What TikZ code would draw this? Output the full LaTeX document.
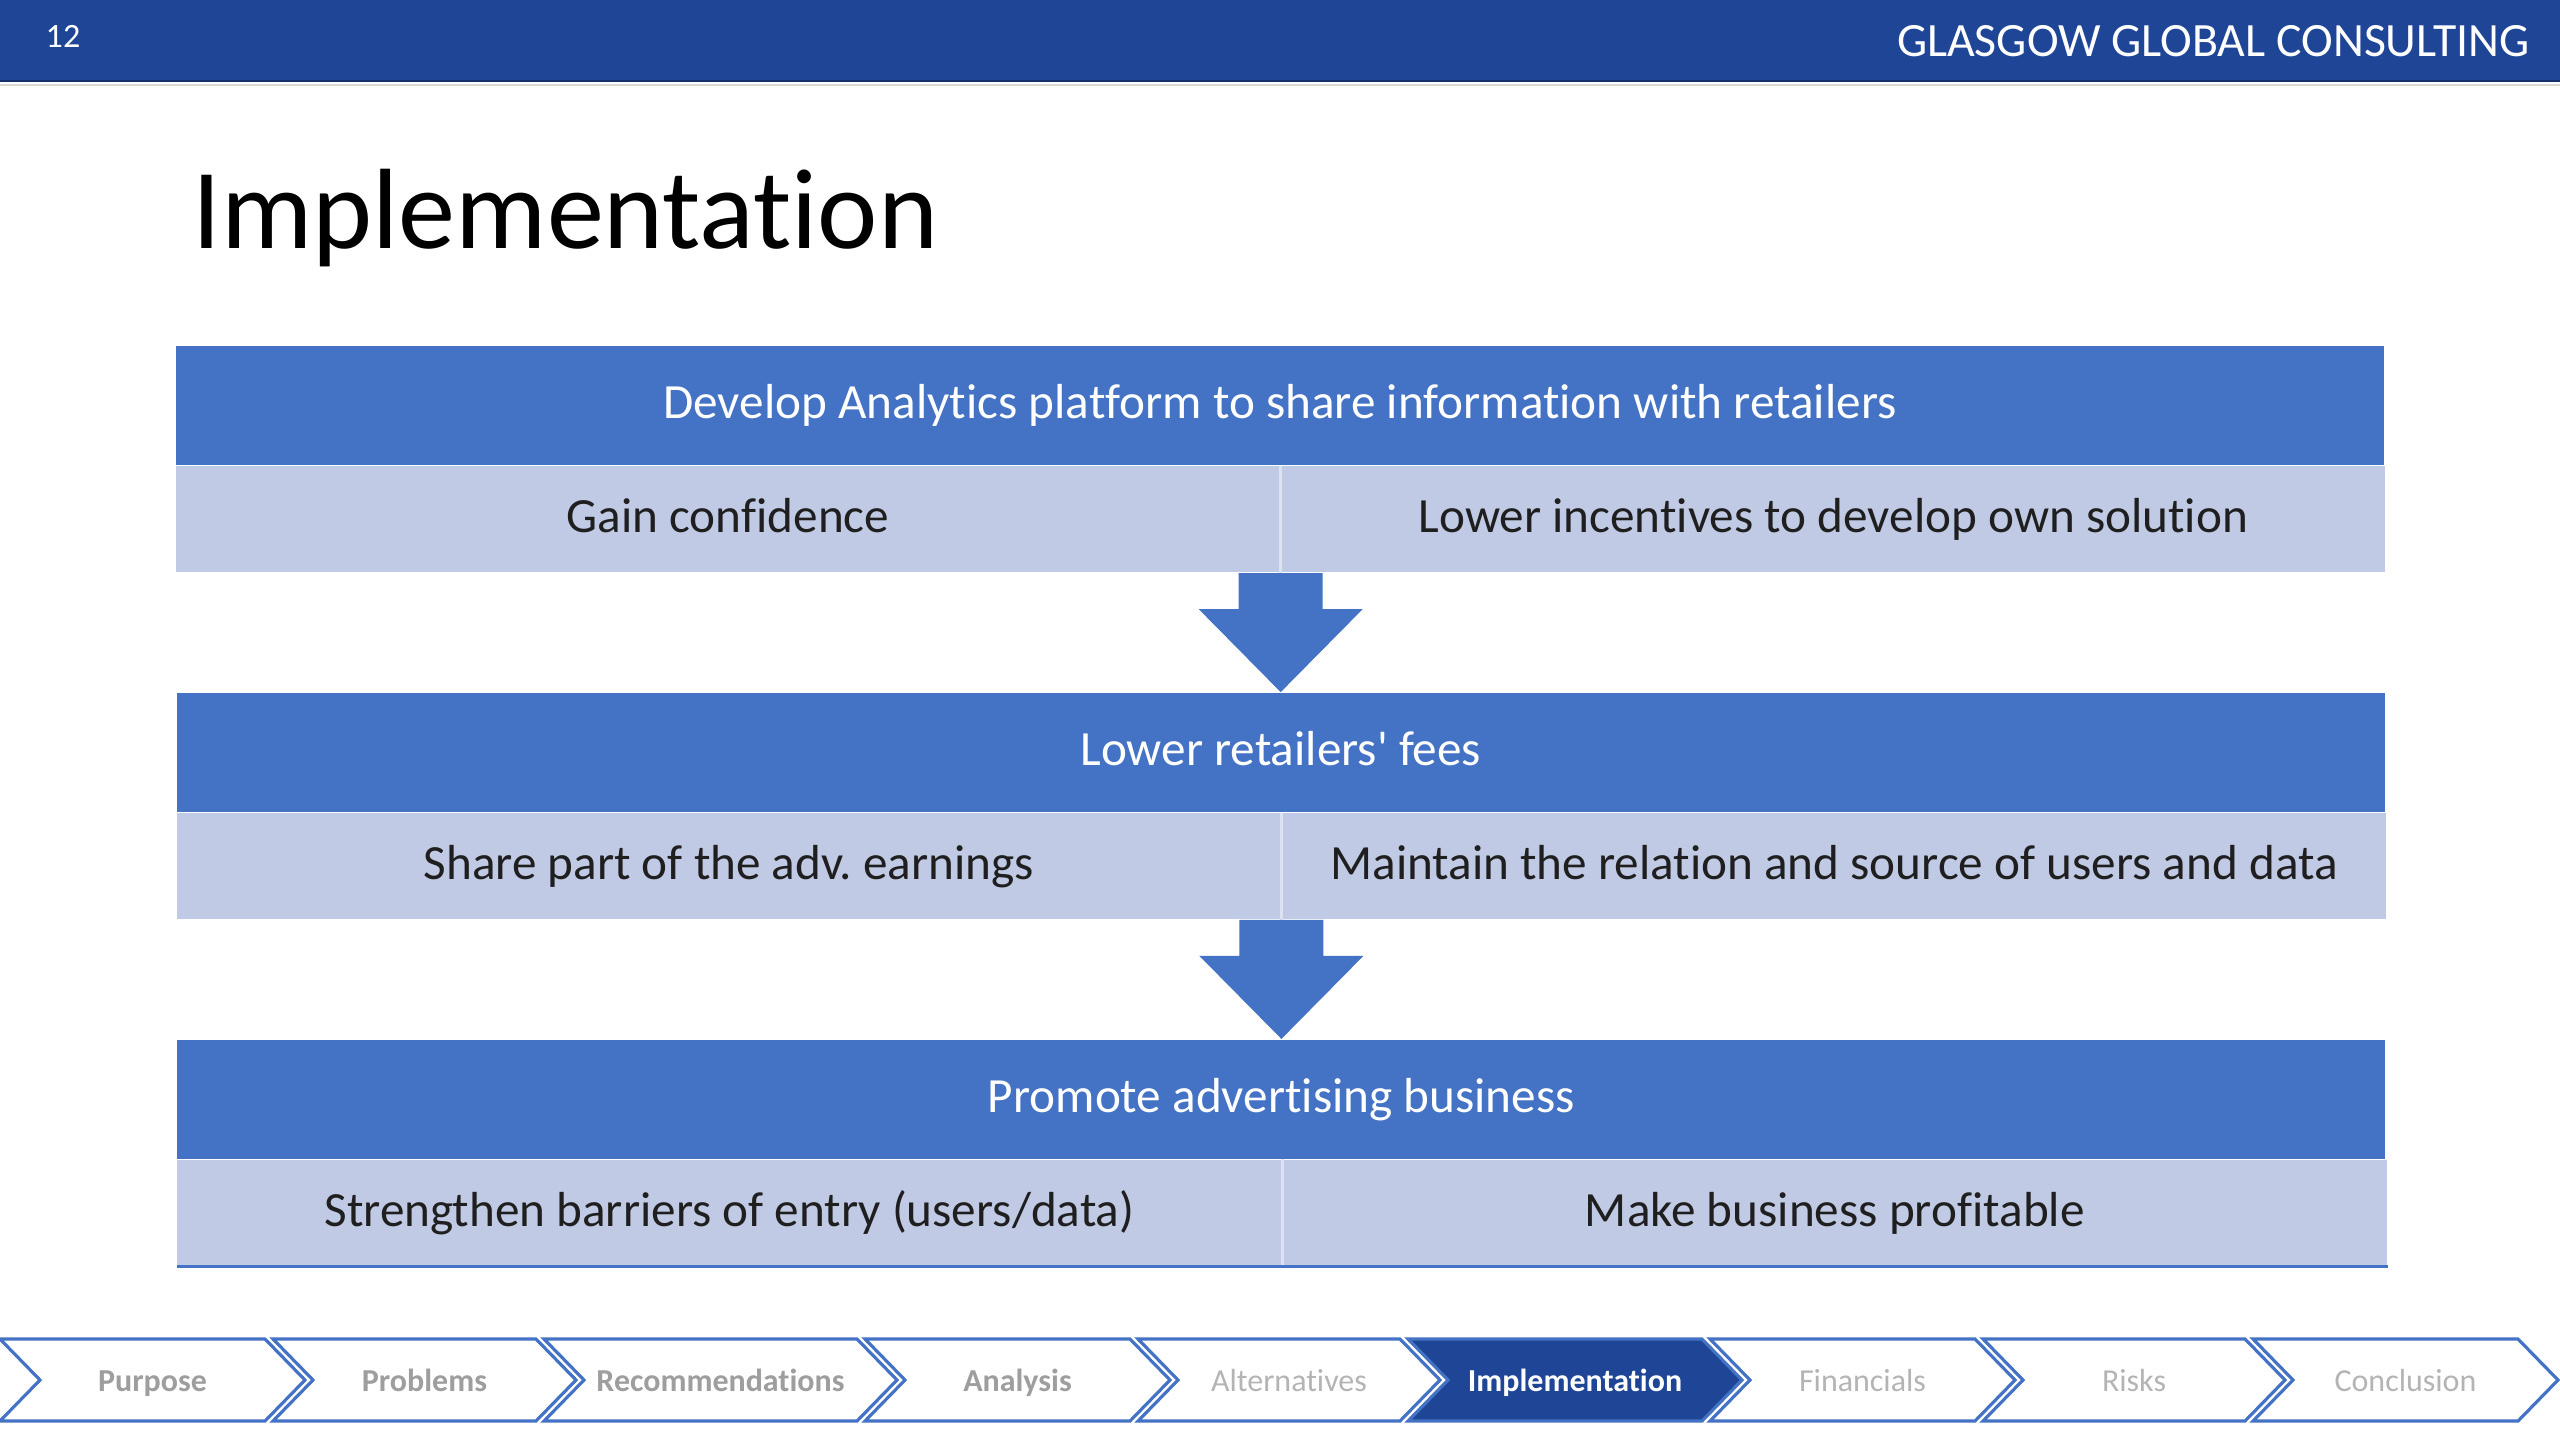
\documentclass[tikz,border=0pt]{standalone}
\usepackage{fontspec}
\setmainfont{Carlito}[Ligatures={TeX,NoCommon}]
\usepackage{xcolor}
\usepackage{tikz}
\usetikzlibrary{positioning, calc}
\definecolor{barblue}{RGB}{31,69,151}
\definecolor{hdrblue}{RGB}{68,114,196}
\definecolor{cellblue}{RGB}{193,202,229}
\definecolor{navgray}{RGB}{158,158,158}
\definecolor{navlight}{RGB}{180,180,180}

\tikzset{
  hdr/.style={fill=hdrblue, text=white, minimum width=22.08cm, minimum height=1.19cm,
    inner sep=0pt, text height=0.8em, text depth=0.04em, font=\fontsize{14}{17}\selectfont},
  cell/.style={fill=cellblue, text=black!88, minimum width=11.04cm, minimum height=1.06cm,
    inner sep=0pt, text height=0.8em, text depth=0.04em, font=\fontsize{14}{17}\selectfont},
  cellline/.style={white!45!cellblue, line width=0.9pt},
  chev/.style={draw=hdrblue, line width=0.9pt, line join=miter}
}

\begin{document}
\begin{tikzpicture}
  \useasboundingbox (0,0) rectangle (25.6,-14.4);
  \fill[white] (0,0) rectangle (25.6,-14.4);

  % top bar
  \fill[barblue] (0,0) rectangle (25.6,-0.82);
  \draw[barblue!70!black, line width=0.8pt] (0,-0.81) -- (25.6,-0.81);
  \draw[gray!30, line width=0.6pt] (0,-0.85) -- (25.6,-0.85);
  \node[text=white, font=\fontsize{9.7}{11}\selectfont] (pageno) at (0.63,-0.36) {12};
  \node[anchor=east, text=white, font=\fontsize{13.6}{16}\selectfont] (firm) at (25.42,-0.41) {GLASGOW GLOBAL CONSULTING};

  % title
  \node[anchor=base west, inner sep=0pt, font=\fontsize{32.5}{38}\selectfont] (title) at (1.92,-2.48) {Implementation};

  % three stages
  \node[hdr] (head1) at (12.8,-4.055) {Develop Analytics platform to share information with retailers};
  \node[cell, anchor=north west] (g1l) at (head1.south west) {Gain confidence};
  \node[cell, right=0cm of g1l] (g1r) {Lower incentives to develop own solution};

  \node[hdr, below=1.19cm of g1l.south east] (head2) {Lower retailers\textquotesingle{} fees};
  \node[cell, anchor=north west] (g2l) at (head2.south west) {Share part of the adv.\ earnings};
  \node[cell, right=0cm of g2l] (g2r) {Maintain the relation and source of users and data};

  \node[hdr, below=1.19cm of g2l.south east] (head3) {Promote advertising business};
  \node[cell, anchor=north west] (g3l) at (head3.south west) {Strengthen barriers of entry (users/data)};
  \node[cell, right=0cm of g3l] (g3r) {Make business profitable};

  \foreach \c in {g1l, g2l, g3l} {
    \draw[cellline] (\c.north east) -- (\c.south east);
  }
  \draw[hdrblue, line width=0.9pt] (g3l.south west) -- (g3r.south east);

  % block arrows between stages
  \foreach \a/\b in {g1l/head2, g2l/head3} {
    \fill[hdrblue] let \p1=(\a.south east), \p2=(\b.north) in
      (\x1-0.42cm,\y1) -- (\x1+0.42cm,\y1) -- (\x1+0.42cm,\y2+0.83cm) -- (\x1+0.82cm,\y2+0.83cm)
      -- (\x2,\y2) -- (\x1-0.82cm,\y2+0.83cm) -- (\x1-0.42cm,\y2+0.83cm) -- cycle;
  }

  % navigation chevrons
  \foreach \l/\r/\lbl/\fc/\tc/\wt [count=\i] in {
      0/2.65/Purpose/white/navgray/\bfseries,
      2.73/5.36/Problems/white/navgray/\bfseries,
      5.44/8.57/Recommendations/white/navgray/\bfseries,
      8.65/11.30/Analysis/white/navgray/\bfseries,
      11.38/14.00/Alternatives/white/navlight/\mdseries,
      14.08/17.02/Implementation/barblue/white/\bfseries,
      17.10/19.75/Financials/white/navlight/\mdseries,
      19.83/22.45/Risks/white/navlight/\mdseries,
      22.53/25.18/Conclusion/white/navlight/\mdseries} {
    \draw[chev, fill=\fc] (\l,-13.39) -- (\r,-13.39) -- (\r+0.4,-13.80) -- (\r,-14.21)
      -- (\l,-14.21) -- (\l+0.4,-13.80) -- cycle;
    \node[text=\tc, text height=0.72em, text depth=0.04em, font=\fontsize{9.1}{11}\selectfont\wt]
      (nav\i) at ({(\l+\r)/2+0.2},-13.80) {\lbl};
  }
\end{tikzpicture}
\end{document}
